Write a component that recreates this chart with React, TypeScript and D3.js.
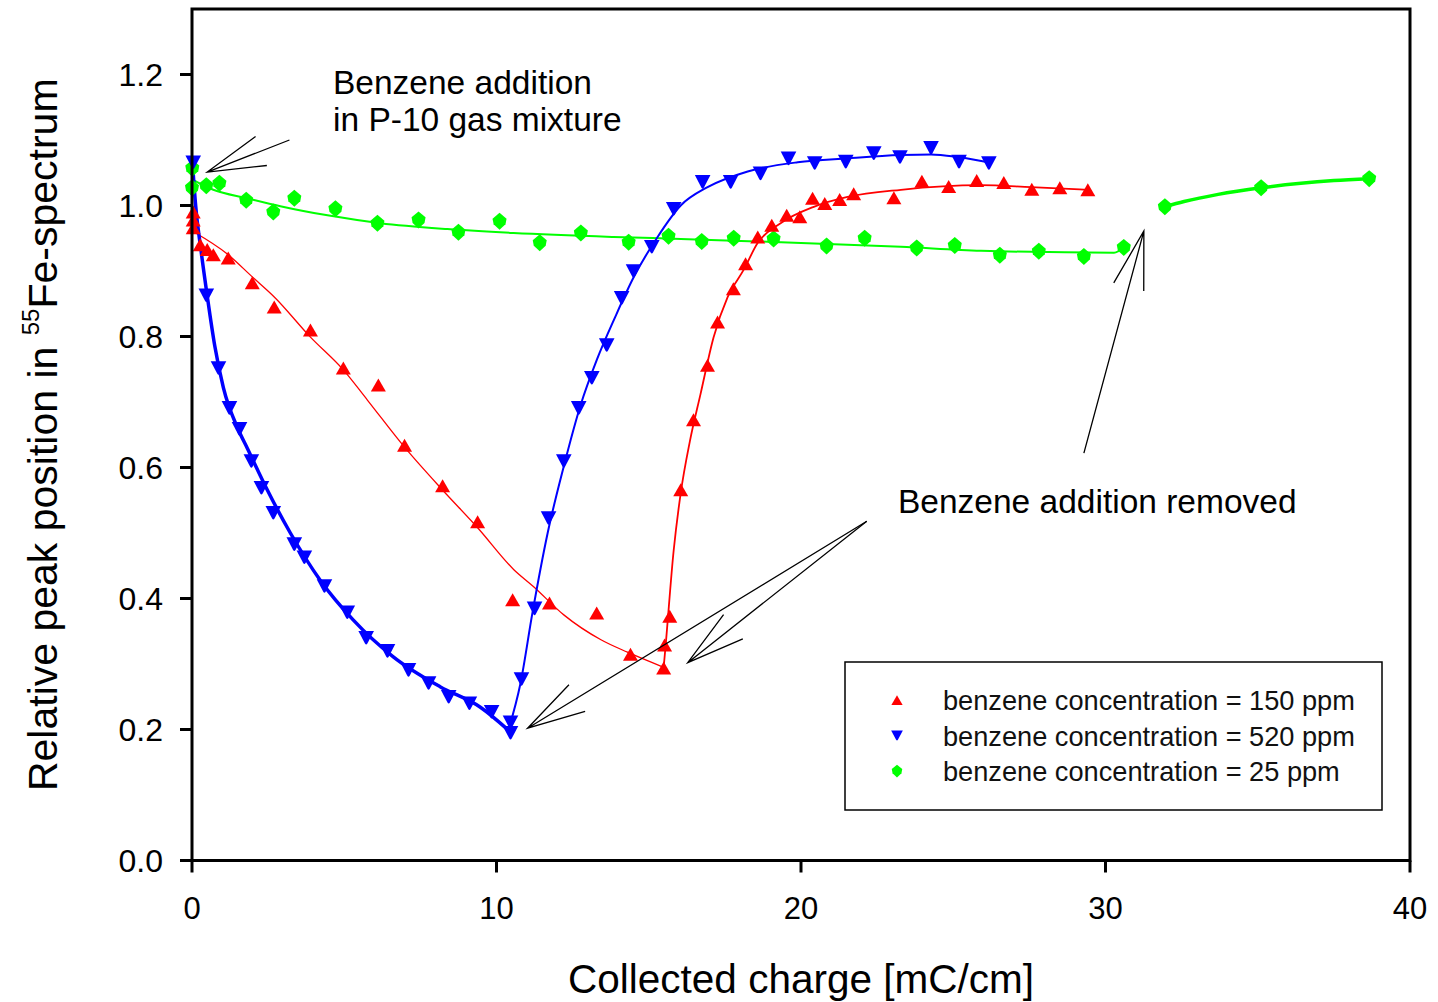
import React from "react";
import * as d3 from "d3";

// Measured series: [collected charge (mC/cm), relative peak position]
const red150Points: [number, number][] = [
  [0.04, 0.99], [0.04, 0.978], [0.04, 0.966], [0.27, 0.94], [0.5, 0.933], [0.7, 0.925],
  [1.19, 0.92], [1.98, 0.882], [2.7, 0.845], [3.89, 0.81], [4.97, 0.752], [6.12, 0.726],
  [6.98, 0.634], [8.23, 0.572], [9.38, 0.517], [10.53, 0.398], [11.74, 0.393], [13.29, 0.378],
  [14.4, 0.315], [15.49, 0.294], [15.52, 0.329], [15.69, 0.373], [16.05, 0.566], [16.47, 0.673],
  [16.93, 0.756], [17.26, 0.822], [17.78, 0.873], [18.18, 0.911], [18.58, 0.952], [19.04, 0.97],
  [19.53, 0.985], [19.96, 0.983], [20.38, 1.011], [20.78, 1.003], [21.27, 1.009], [21.73, 1.018],
  [23.05, 1.012], [23.97, 1.037], [24.85, 1.029], [25.77, 1.038], [26.66, 1.035], [27.58, 1.025],
  [28.5, 1.027], [29.42, 1.024],
];

const blue520Points: [number, number][] = [
  [0.04, 1.066], [0.47, 0.863], [0.87, 0.752], [1.23, 0.691], [1.56, 0.659], [1.95, 0.61],
  [2.28, 0.569], [2.67, 0.531], [3.36, 0.483], [3.69, 0.463], [4.35, 0.419], [5.1, 0.379],
  [5.72, 0.34], [6.42, 0.32], [7.11, 0.291], [7.77, 0.271], [8.43, 0.25], [9.11, 0.24],
  [9.84, 0.227], [10.46, 0.211], [10.46, 0.195], [10.82, 0.277], [11.25, 0.385], [11.71, 0.523],
  [12.21, 0.61], [12.7, 0.691], [13.13, 0.737], [13.62, 0.787], [14.11, 0.859], [14.5, 0.9],
  [15.1, 0.937], [15.82, 0.995], [16.77, 1.036], [17.69, 1.036], [18.67, 1.049], [19.59, 1.072],
  [20.45, 1.065], [21.47, 1.067], [22.39, 1.08], [23.25, 1.074], [24.27, 1.088], [25.19, 1.067],
  [26.17, 1.065],
];

const green25Points: [number, number][] = [
  [0.01, 1.057], [0.0, 1.027], [0.47, 1.03], [0.9, 1.034], [1.78, 1.008], [2.67, 0.99],
  [3.36, 1.011], [4.71, 0.995], [6.09, 0.973], [7.44, 0.978], [8.75, 0.959], [10.1, 0.976],
  [11.42, 0.943], [12.77, 0.958], [14.34, 0.944], [15.65, 0.953], [16.74, 0.945], [17.79, 0.95],
  [19.1, 0.949], [20.84, 0.938], [22.09, 0.95], [23.8, 0.935], [25.05, 0.939], [26.53, 0.924],
  [27.81, 0.93], [29.29, 0.922], [30.6, 0.936], [31.95, 0.998], [35.11, 1.027], [38.66, 1.041],
];

// Fitted curves (smooth guides through each series)
const red150FitDown: [number, number][] = [
  [0.05, 0.96], [1.16, 0.926], [1.98, 0.891], [2.71, 0.86], [3.89, 0.799], [4.97, 0.749],
  [5.76, 0.703], [6.98, 0.631], [8.22, 0.566], [9.38, 0.508], [10.57, 0.444], [11.22, 0.418],
  [12.21, 0.375], [13.43, 0.337], [14.3, 0.318], [15.49, 0.295],
];
const red150FitUp: [number, number][] = [
  [15.49, 0.295], [15.55, 0.326], [15.82, 0.474], [16.05, 0.561], [16.35, 0.64], [16.7, 0.712],
  [17.13, 0.799], [17.59, 0.86], [18.12, 0.902], [18.58, 0.943], [19.33, 0.973], [20.42, 0.998],
  [21.53, 1.013], [23.28, 1.024], [25.9, 1.031], [27.55, 1.028], [29.42, 1.024],
];
const blue520FitDown: [number, number][] = [
  [0.01, 1.069], [0.12, 1.0], [0.3, 0.93], [0.5, 0.862], [0.75, 0.785], [1.03, 0.722],
  [1.52, 0.658], [1.82, 0.629], [2.47, 0.566], [3.23, 0.5], [4.21, 0.428], [5.3, 0.367],
  [6.61, 0.311], [8.16, 0.265], [9.47, 0.234], [10.39, 0.199],
];
const blue520FitUp: [number, number][] = [
  [10.39, 0.199], [10.79, 0.271], [11.18, 0.378], [11.68, 0.5], [12.2, 0.6], [12.76, 0.695],
  [13.3, 0.765], [13.9, 0.83], [14.5, 0.89], [15.29, 0.952], [16.05, 1.0], [16.93, 1.028],
  [18.25, 1.052], [19.89, 1.066], [21.53, 1.072], [23.27, 1.077], [24.27, 1.078], [25.15, 1.074],
  [26.14, 1.066],
];
const green25FitA: [number, number][] = [
  [0.0, 1.04], [0.7, 1.024], [1.82, 1.011], [2.9, 0.999], [4.45, 0.985], [6.19, 0.973],
  [8.39, 0.964], [10.56, 0.958], [13.85, 0.952], [16.05, 0.949], [19.33, 0.944], [23.28, 0.937],
  [25.91, 0.931], [30.28, 0.928], [30.6, 0.936],
];
const green25FitB: [number, number][] = [
  [31.95, 0.998], [32.58, 1.006], [33.7, 1.017], [35.11, 1.027], [37.5, 1.038], [38.66, 1.041],
];

const xTicks = [0, 10, 20, 30, 40];
const yTicks = [0, 0.2, 0.4, 0.6, 0.8, 1.0, 1.2];

const legendLabels = [
  "benzene concentration = 150 ppm",
  "benzene concentration = 520 ppm",
  "benzene concentration = 25 ppm",
];

// Annotation arrows in data units: tail -> tip
const arrows: { from: [number, number]; to: [number, number] }[] = [
  { from: [3.2, 1.1], to: [0.5, 1.051] },
  { from: [22.16, 0.518], to: [11.02, 0.202] },
  { from: [22.16, 0.518], to: [16.28, 0.302] },
  { from: [29.29, 0.622], to: [31.26, 0.961] },
];

const W = 1438;
const H = 1002;
const FONT = "'Liberation Sans', Arial, Helvetica, sans-serif";

const x = d3.scaleLinear().domain([0, 40]).range([192, 1410]);
const y = d3.scaleLinear().domain([0, 1.3]).range([860.5, 9]);

const fitLine = d3
  .line<[number, number]>()
  .x((d) => x(d[0]))
  .y((d) => y(d[1]))
  .curve(d3.curveMonotoneX);

const RED = "#ff0000";
const BLUE = "#0000ff";
const GREEN = "#00ff00";

function triUp(s: number) {
  const w = 7.5 * s;
  const h = 6.5 * s;
  return `M0,${-h}L${w},${h}L${-w},${h}Z`;
}
function triDown(s: number) {
  const w = 7.8 * s;
  const h = 6.8 * s;
  return `M${-w},${-h}L${w},${-h}L${1.2 * s},${h - 1 * s}Q0,${h + 1 * s} ${-1.2 * s},${h - 1 * s}Z`;
}
function gem(s: number) {
  const w = 7 * s;
  const h = 8.5 * s;
  return `M0,${-h}L${w},${-h * 0.3}L${w * 0.85},${h * 0.35}L0,${h}L${-w * 0.85},${h * 0.35}L${-w},${-h * 0.3}Z`;
}

function arrowPath(a: { from: [number, number]; to: [number, number] }) {
  const x0 = x(a.from[0]);
  const y0 = y(a.from[1]);
  const x1 = x(a.to[0]);
  const y1 = y(a.to[1]);
  const ang = Math.atan2(y0 - y1, x0 - x1);
  const len = 60;
  const spread = (15 * Math.PI) / 180;
  const hx1 = x1 + len * Math.cos(ang + spread);
  const hy1 = y1 + len * Math.sin(ang + spread);
  const hx2 = x1 + len * Math.cos(ang - spread);
  const hy2 = y1 + len * Math.sin(ang - spread);
  return `M${x0},${y0}L${x1},${y1}M${hx1},${hy1}L${x1},${y1}L${hx2},${hy2}`;
}

export default function App() {
  const x0 = x.range()[0];
  const x1 = x.range()[1];
  const yb = y.range()[0];
  const yt = y.range()[1];
  const legendX = 845;
  const legendY = 662;
  return (
    <svg
      width={W}
      height={H}
      viewBox={`0 0 ${W} ${H}`}
      style={{ position: "absolute", left: 0, top: 0, background: "#fff" }}
      fontFamily={FONT}
    >
      <rect x={0} y={0} width={W} height={H} fill="#fff" />

      {/* fitted curves */}
      <path d={fitLine(green25FitA) || ""} fill="none" stroke={GREEN} strokeWidth={2} />
      <path d={fitLine(green25FitB) || ""} fill="none" stroke={GREEN} strokeWidth={3.5} />
      <path d={fitLine(red150FitDown) || ""} fill="none" stroke={RED} strokeWidth={1.3} />
      <path d={fitLine(red150FitUp) || ""} fill="none" stroke={RED} strokeWidth={1.8} />
      <path d={fitLine(blue520FitDown) || ""} fill="none" stroke={BLUE} strokeWidth={3.5} />
      <path d={fitLine(blue520FitUp) || ""} fill="none" stroke={BLUE} strokeWidth={2} />

      {/* markers */}
      {green25Points.map((d, i) => (
        <path key={`g${i}`} d={gem(1)} transform={`translate(${x(d[0])},${y(d[1])})`} fill={GREEN} />
      ))}
      {red150Points.map((d, i) => (
        <path key={`r${i}`} d={triUp(1)} transform={`translate(${x(d[0])},${y(d[1])})`} fill={RED} />
      ))}
      {blue520Points.map((d, i) => (
        <path key={`b${i}`} d={triDown(1)} transform={`translate(${x(d[0])},${y(d[1])})`} fill={BLUE} />
      ))}

      {/* frame */}
      <rect x={x0} y={yt} width={x1 - x0} height={yb - yt} fill="none" stroke="#000" strokeWidth={3} />

      {/* x axis ticks */}
      {xTicks.map((t) => (
        <g key={`xt${t}`}>
          <line x1={x(t)} x2={x(t)} y1={yb} y2={yb + 12} stroke="#000" strokeWidth={3} />
          <text x={x(t)} y={919} fontSize={31} textAnchor="middle" fill="#000">
            {t}
          </text>
        </g>
      ))}
      {/* y axis ticks */}
      {yTicks.map((t) => (
        <g key={`yt${t}`}>
          <line x1={x0 - 12} x2={x0} y1={y(t)} y2={y(t)} stroke="#000" strokeWidth={3} />
          <text x={163} y={y(t) + 11} fontSize={32} textAnchor="end" fill="#000">
            {t.toFixed(1)}
          </text>
        </g>
      ))}

      {/* axis titles */}
      <text x={(x0 + x1) / 2} y={993} fontSize={40.5} textAnchor="middle" fill="#000">
        Collected charge [mC/cm]
      </text>
      <text transform={`translate(57,${(yt + yb) / 2}) rotate(-90)`} fontSize={41} textAnchor="middle" fill="#000">
        <tspan>Relative peak position in </tspan>
        <tspan fontSize={24} dy={-18}>55</tspan>
        <tspan dy={18}>Fe-spectrum</tspan>
      </text>

      {/* annotations */}
      <text x={333} y={94} fontSize={33.5} fill="#000">Benzene addition</text>
      <text x={333} y={131} fontSize={33.5} fill="#000">in P-10 gas mixture</text>
      <text x={898} y={513} fontSize={33.5} fill="#000">Benzene addition removed</text>
      {arrows.map((a, i) => (
        <path key={`a${i}`} d={arrowPath(a)} fill="none" stroke="#000" strokeWidth={1.3} />
      ))}

      {/* legend */}
      <rect x={legendX} y={legendY} width={537} height={148} fill="#fff" stroke="#000" strokeWidth={1.5} />
      {legendLabels.map((lab, i) => {
        const cy = 700 + i * 35.5;
        const mk = i === 0 ? triUp(0.75) : i === 1 ? triDown(0.75) : gem(0.75);
        const col = i === 0 ? RED : i === 1 ? BLUE : GREEN;
        return (
          <g key={`l${i}`}>
            <path d={mk} transform={`translate(897,${cy})`} fill={col} />
            <text x={943} y={cy + 10} fontSize={27.2} fill="#111">
              {lab}
            </text>
          </g>
        );
      })}
    </svg>
  );
}
